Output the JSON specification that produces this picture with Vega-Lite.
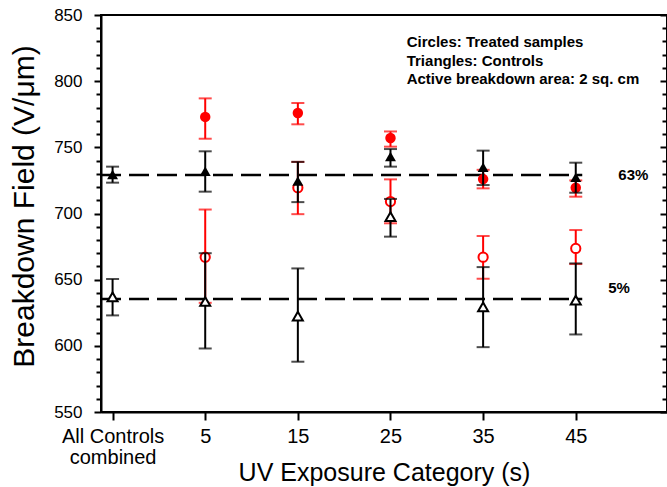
{
  "$schema": "https://vega.github.io/schema/vega-lite/v6.json",
  "width": 566,
  "height": 397,
  "autosize": {"type": "none"},
  "padding": {"left": 101, "top": 15, "right": 0, "bottom": 75},
  "background": "white",
  "config": {
    "font": "Liberation Sans",
    "view": {"stroke": "black", "strokeWidth": 2}
  },
  "datasets": {
    "pts": [
      {"kind": "control", "level": "63%", "x": -5, "y": 729.5, "lo": 723.3, "hi": 735.4},
      {"kind": "control", "level": "63%", "x": 5, "y": 732, "lo": 716.5, "hi": 747},
      {"kind": "control", "level": "63%", "x": 15, "y": 724.5, "lo": 708.6, "hi": 739},
      {"kind": "control", "level": "63%", "x": 25, "y": 743, "lo": 735.4, "hi": 748.7},
      {"kind": "control", "level": "63%", "x": 35, "y": 735, "lo": 721.5, "hi": 747.5},
      {"kind": "control", "level": "63%", "x": 45, "y": 727.3, "lo": 715.7, "hi": 738.4},
      {"kind": "control", "level": "5%", "x": -5, "y": 637, "lo": 623, "hi": 650.5},
      {"kind": "control", "level": "5%", "x": 5, "y": 633.5, "lo": 598, "hi": 670},
      {"kind": "control", "level": "5%", "x": 15, "y": 622.5, "lo": 588, "hi": 658.5},
      {"kind": "control", "level": "5%", "x": 25, "y": 697.6, "lo": 682.5, "hi": 711},
      {"kind": "control", "level": "5%", "x": 35, "y": 629.5, "lo": 599, "hi": 659.5},
      {"kind": "control", "level": "5%", "x": 45, "y": 634.5, "lo": 608.6, "hi": 662.3},
      {"kind": "treated", "level": "63%", "x": 5, "y": 773, "lo": 756.5, "hi": 787},
      {"kind": "treated", "level": "63%", "x": 15, "y": 776, "lo": 767.4, "hi": 783.5},
      {"kind": "treated", "level": "63%", "x": 25, "y": 757, "lo": 750.5, "hi": 762},
      {"kind": "treated", "level": "63%", "x": 35, "y": 726, "lo": 719, "hi": 733},
      {"kind": "treated", "level": "63%", "x": 45, "y": 719.5, "lo": 712.7, "hi": 725},
      {"kind": "treated", "level": "5%", "x": 5, "y": 667, "lo": 632.5, "hi": 703},
      {"kind": "treated", "level": "5%", "x": 15, "y": 719.5, "lo": 699.5, "hi": 739},
      {"kind": "treated", "level": "5%", "x": 25, "y": 709, "lo": 692.6, "hi": 725.8},
      {"kind": "treated", "level": "5%", "x": 35, "y": 667, "lo": 650.7, "hi": 683},
      {"kind": "treated", "level": "5%", "x": 45, "y": 673.6, "lo": 661.8, "hi": 687.5}
    ],
    "refs": [
      {"label": "63%", "y": 729.1, "lx": 49.6, "ly": 725.3},
      {"label": "5%", "y": 635.4, "lx": 48.51, "ly": 639.7}
    ],
    "notes": [
      {"text": "Circles: Treated samples", "x": 26.75, "y": 825.6},
      {"text": "Triangles: Controls", "x": 26.75, "y": 811.5},
      {"text": "Active breakdown area: 2 sq. cm", "x": 26.75, "y": 797.6}
    ]
  },
  "resolve": {"axis": {"y": "independent"}},
  "layer": [
    {
      "data": {"name": "refs"},
      "mark": {"type": "rule", "color": "black", "strokeWidth": 2.5, "strokeDash": [20, 8]},
      "encoding": {
        "x": {
          "datum": -6.25,
          "type": "quantitative",
          "scale": {"domain": [-6.25, 54.85], "nice": false, "zero": false},
          "axis": {
            "orient": "bottom",
            "values": [-5, 5, 15, 25, 35, 45],
            "grid": false,
            "domainColor": "black",
            "domainWidth": 2,
            "tickColor": "black",
            "tickWidth": 2,
            "tickSize": 8,
            "labelFontSize": 20,
            "labelColor": "black",
            "labelPadding": 6,
            "labelLineHeight": 21,
            "labelExpr": "datum.value == -5 ? ['All Controls', 'combined'] : datum.label",
            "title": "UV Exposure Category (s)",
            "titleFontSize": 25,
            "titleFontWeight": "normal",
            "titleColor": "black",
            "titleBaseline": "alphabetic",
            "titleY": 68
          }
        },
        "x2": {"datum": 45.7},
        "y": {
          "field": "y",
          "type": "quantitative",
          "scale": {"domain": [550, 850], "nice": false, "zero": false},
          "axis": {
            "orient": "left",
            "values": [550, 560, 570, 580, 590, 600, 610, 620, 630, 640, 650, 660, 670, 680, 690, 700, 710, 720, 730, 740, 750, 760, 770, 780, 790, 800, 810, 820, 830, 840, 850],
            "grid": false,
            "domainColor": "black",
            "domainWidth": 2,
            "tickColor": "black",
            "tickWidth": 2,
            "tickSize": {"condition": {"test": "datum.value % 50 === 0", "value": 7}, "value": 5},
            "labelExpr": "datum.value % 50 === 0 ? datum.label : ''",
            "labelFontSize": 17,
            "labelColor": "black",
            "labelPadding": 12,
            "title": "Breakdown Field (V/μm)",
            "titleFontSize": 30,
            "titleFontWeight": "normal",
            "titleColor": "black",
            "titleAngle": -90,
            "titleBaseline": "middle",
            "titleAlign": "center",
            "titleX": -77,
            "titleY": 191
          }
        }
      }
    },
    {
      "data": {"name": "refs"},
      "mark": {"type": "text", "font": "Liberation Sans", "fontSize": 15, "fontWeight": "bold", "align": "left", "baseline": "alphabetic", "color": "black"},
      "encoding": {
        "x": {"field": "lx", "type": "quantitative"},
        "y": {
          "field": "ly",
          "type": "quantitative",
          "axis": {
            "orient": "right",
            "values": [550, 560, 570, 580, 590, 600, 610, 620, 630, 640, 650, 660, 670, 680, 690, 700, 710, 720, 730, 740, 750, 760, 770, 780, 790, 800, 810, 820, 830, 840, 850],
            "grid": false,
            "labels": false,
            "title": null,
            "domainColor": "black",
            "domainWidth": 2,
            "tickColor": "black",
            "tickWidth": 2,
            "tickSize": {"condition": {"test": "datum.value % 50 === 0", "value": -7}, "value": -5}
          }
        },
        "text": {"field": "label"}
      }
    },
    {
      "data": {"name": "notes"},
      "mark": {"type": "text", "font": "Liberation Sans", "fontSize": 15, "fontWeight": "bold", "align": "left", "baseline": "alphabetic", "color": "black"},
      "encoding": {
        "x": {"field": "x", "type": "quantitative"},
        "y": {"field": "y", "type": "quantitative", "axis": null},
        "text": {"field": "text"}
      }
    },
    {
      "data": {"name": "pts"},
      "transform": [{"filter": "datum.kind === 'treated'"}],
      "mark": {"type": "rule", "color": "#ff0000", "strokeWidth": 2},
      "encoding": {
        "x": {"field": "x", "type": "quantitative"},
        "y": {"field": "lo", "type": "quantitative", "axis": null},
        "y2": {"field": "hi"}
      }
    },
    {
      "data": {"name": "pts"},
      "transform": [{"filter": "datum.kind === 'treated'"}],
      "mark": {"type": "tick", "orient": "horizontal", "color": "#ff0000", "size": 13, "thickness": 2},
      "encoding": {
        "x": {"field": "x", "type": "quantitative"},
        "y": {"field": "lo", "type": "quantitative", "axis": null}
      }
    },
    {
      "data": {"name": "pts"},
      "transform": [{"filter": "datum.kind === 'treated'"}],
      "mark": {"type": "tick", "orient": "horizontal", "color": "#ff0000", "size": 13, "thickness": 2},
      "encoding": {
        "x": {"field": "x", "type": "quantitative"},
        "y": {"field": "hi", "type": "quantitative", "axis": null}
      }
    },
    {
      "data": {"name": "pts"},
      "transform": [{"filter": "datum.kind === 'treated' && datum.level === '63%'"}],
      "mark": {"type": "point", "shape": "circle", "filled": true, "color": "#ff0000", "size": 110, "opacity": 1},
      "encoding": {
        "x": {"field": "x", "type": "quantitative"},
        "y": {"field": "y", "type": "quantitative", "axis": null}
      }
    },
    {
      "data": {"name": "pts"},
      "transform": [{"filter": "datum.kind === 'treated' && datum.level === '5%'"}],
      "mark": {"type": "point", "shape": "circle", "fill": "white", "stroke": "#ff0000", "strokeWidth": 2, "size": 85, "opacity": 1, "fillOpacity": 1},
      "encoding": {
        "x": {"field": "x", "type": "quantitative"},
        "y": {"field": "y", "type": "quantitative", "axis": null}
      }
    },
    {
      "data": {"name": "pts"},
      "transform": [{"filter": "datum.kind === 'control'"}],
      "mark": {"type": "rule", "color": "black", "strokeWidth": 2},
      "encoding": {
        "x": {"field": "x", "type": "quantitative"},
        "y": {"field": "lo", "type": "quantitative", "axis": null},
        "y2": {"field": "hi"}
      }
    },
    {
      "data": {"name": "pts"},
      "transform": [{"filter": "datum.kind === 'control'"}],
      "mark": {"type": "tick", "orient": "horizontal", "color": "black", "size": 13, "thickness": 2},
      "encoding": {
        "x": {"field": "x", "type": "quantitative"},
        "y": {"field": "lo", "type": "quantitative", "axis": null}
      }
    },
    {
      "data": {"name": "pts"},
      "transform": [{"filter": "datum.kind === 'control'"}],
      "mark": {"type": "tick", "orient": "horizontal", "color": "black", "size": 13, "thickness": 2},
      "encoding": {
        "x": {"field": "x", "type": "quantitative"},
        "y": {"field": "hi", "type": "quantitative", "axis": null}
      }
    },
    {
      "data": {"name": "pts"},
      "transform": [{"filter": "datum.kind === 'control' && datum.level === '63%'"}],
      "mark": {"type": "point", "shape": "triangle-up", "filled": true, "color": "black", "size": 120, "opacity": 1},
      "encoding": {
        "x": {"field": "x", "type": "quantitative"},
        "y": {"field": "y", "type": "quantitative", "axis": null}
      }
    },
    {
      "data": {"name": "pts"},
      "transform": [{"filter": "datum.kind === 'control' && datum.level === '5%'"}],
      "mark": {"type": "point", "shape": "triangle-up", "fill": "white", "stroke": "black", "strokeWidth": 2, "size": 100, "opacity": 1, "fillOpacity": 1},
      "encoding": {
        "x": {"field": "x", "type": "quantitative"},
        "y": {"field": "y", "type": "quantitative", "axis": null}
      }
    }
  ]
}
